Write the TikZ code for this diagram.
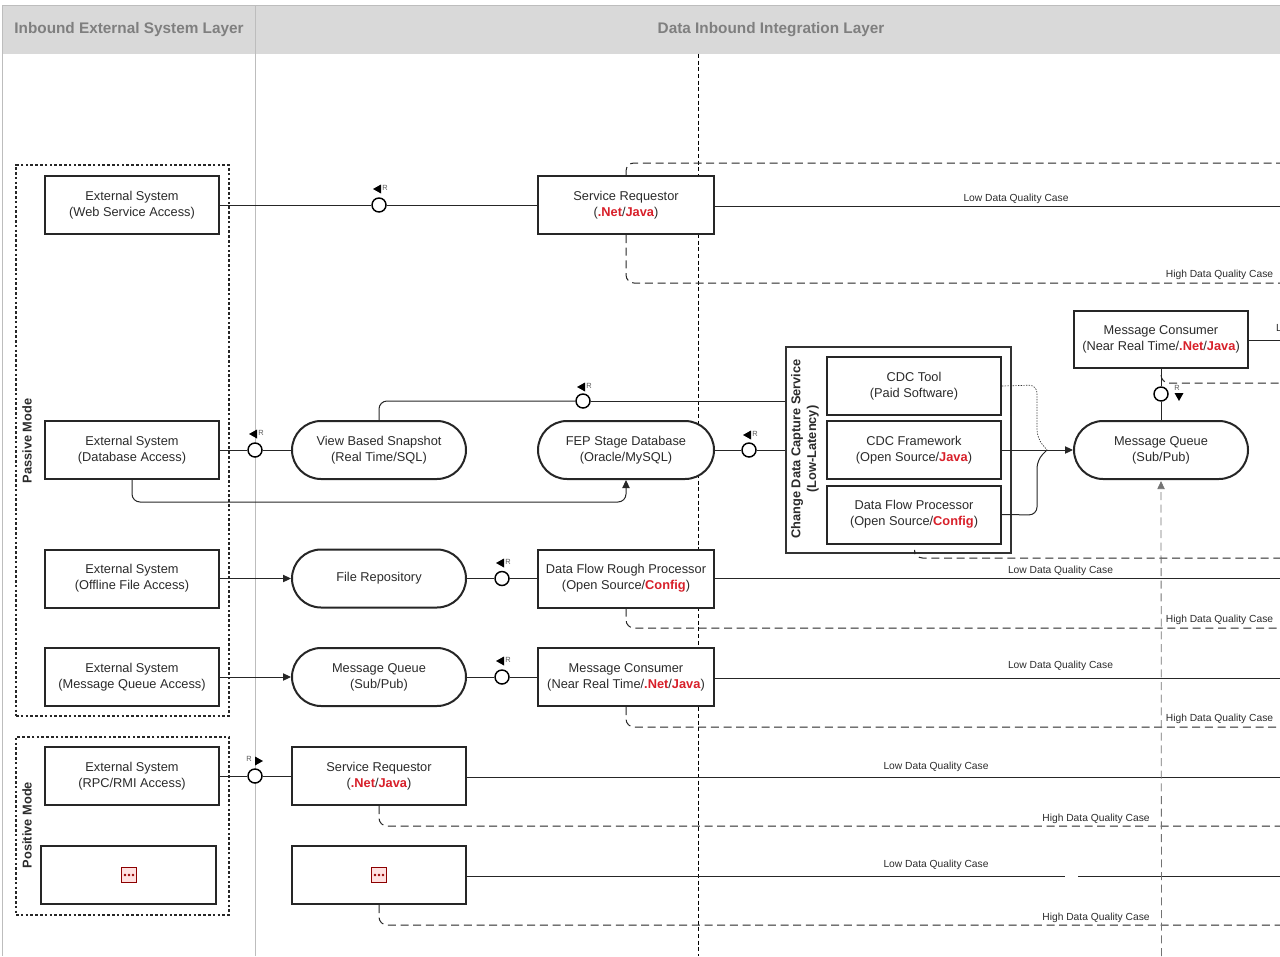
\documentclass[tikz,border=0pt]{standalone}
\usepackage{fontspec}
\setmainfont{Liberation Sans}
\usetikzlibrary{shapes.misc,arrows.meta}
\definecolor{txt}{HTML}{2B2B2B}
\definecolor{redc}{HTML}{D8202A}
\definecolor{hdr}{HTML}{D9D9D9}
\definecolor{hdrtxt}{HTML}{7F7F7F}
\definecolor{rule}{HTML}{BDBDBD}
\newcommand{\rd}[1]{\textcolor{redc}{\textbf{#1}}}
\tikzset{
  x=0.75pt,y=-0.75pt,
  wh/.style 2 args={minimum width=#1*0.75pt,minimum height=#2*0.75pt},
  boxn/.style={draw=black!85,line width=1.5pt,fill=white,rectangle,inner sep=0pt,align=center,text=txt,font=\fontsize{9.6}{11.8}\selectfont},
  pill/.style={boxn,rounded rectangle},
  cdcframe/.style={draw=black!80,line width=1.5pt,fill=white,rectangle,inner sep=0pt},
  modebox/.style={draw=black!85,line width=1.5pt,dash pattern=on 2pt off 1.6pt,rectangle,inner sep=0pt},
  hub/.style={circle,draw=black,line width=1.1pt,fill=white,minimum size=10.5pt,inner sep=0pt},
  conn/.style={draw=black!85,line width=0.75pt},
  arrowc/.style={conn,-{Triangle[length=6pt,width=5.5pt]}},
  hq/.style={draw=black!85,line width=0.75pt,dash pattern=on 6pt off 3.5pt,rounded corners=6pt},
  lab/.style={font=\fontsize{7.7}{9}\selectfont,text=txt,inner sep=0pt},
  rlab/.style={font=\fontsize{5.6}{6}\selectfont,text=black!65,inner sep=0pt},
  vlab/.style={rotate=90,font=\fontsize{9.6}{11.8}\selectfont\bfseries,text=txt,inner sep=0pt,align=center},
  mlab/.style={rotate=90,font=\fontsize{9.6}{12}\selectfont\bfseries,text=txt,inner sep=0pt},
  head/.style={font=\fontsize{11.5}{13}\selectfont\bfseries,text=hdrtxt,inner sep=0pt},
  icon/.style={draw=red!55!black,fill=red!12,line width=0.5pt,minimum size=11pt,inner sep=0pt,rectangle},
}
\newcommand{\dotsicon}[2]{%
  \fill[red!60!black] (#1-4,#2) circle[radius=1.1pt];
  \fill[red!60!black] (#1,#2) circle[radius=1.1pt];
  \fill[red!60!black] (#1+4,#2) circle[radius=1.1pt];}
\newcommand{\tl}[2]{\fill[black] (#1+4,#2-4.5) -- (#1-4,#2) -- (#1+4,#2+4.5) -- cycle;}
\newcommand{\tr}[2]{\fill[black] (#1-4,#2-4.5) -- (#1+4,#2) -- (#1-4,#2+4.5) -- cycle;}
\newcommand{\td}[2]{\fill[black] (#1-4.5,#2-4) -- (#1,#2+4) -- (#1+4.5,#2-4) -- cycle;}
\begin{document}
\begin{tikzpicture}
\useasboundingbox (0,0) rectangle (1280,956);
% header band and lanes
\fill[hdr] (2,6) rectangle (1280,54);
\draw[rule,line width=0.75pt] (2,6) -- (1280,6);
\draw[rule,line width=0.75pt] (2,6) -- (2,956);
\draw[rule,line width=0.75pt] (255,6) -- (255,956);
\draw[black,line width=0.75pt,dash pattern=on 3pt off 2pt] (698.5,54) -- (698.5,956);
\node[head] (h1) at (129,29.5) {Inbound External System Layer};
\node[head] (h2) at (771,29.5) {Data Inbound Integration Layer};
% right-edge coordinates
\coordinate (e1) at (1280,163); \coordinate (e2) at (1280,206); \coordinate (e3) at (1280,283);
\coordinate (e4) at (1280,340); \coordinate (e5) at (1280,383); \coordinate (e6) at (1280,558);
\coordinate (e7) at (1280,578); \coordinate (e8) at (1280,628); \coordinate (e9) at (1280,678);
\coordinate (e10) at (1280,727); \coordinate (e11) at (1280,777); \coordinate (e12) at (1280,826);
\coordinate (e13) at (1280,876); \coordinate (e14) at (1280,925); \coordinate (bot) at (1161.5,956);
% mode boxes
\node[modebox,wh={213}{551}] (passive) at (122.5,440.5) {};
\node[modebox,wh={213}{178}] (positive) at (122.5,826) {};
\node[mlab] (pl) at (27,441) {Passive Mode};
\node[mlab] (ql) at (27,825) {Positive Mode};
% nodes
\node[boxn,wh={174}{58}] (ew) at (132,205) {External System\\(Web Service Access)};
\node[boxn,wh={174}{58}] (ed) at (132,450) {External System\\(Database Access)};
\node[boxn,wh={174}{58}] (ef) at (132,578.5) {External System\\(Offline File Access)};
\node[boxn,wh={174}{58}] (em) at (132,677) {External System\\(Message Queue Access)};
\node[boxn,wh={174}{58}] (er) at (132,776) {External System\\(RPC/RMI Access)};
\node[boxn,wh={175}{58}] (eb) at (128.5,875) {};
\node[boxn,wh={176}{58}] (sr1) at (626,205) {Service Requestor\\(\rd{.Net}/\rd{Java})};
\node[pill,wh={174}{58}] (vb) at (379,450) {View Based Snapshot\\(Real Time/SQL)};
\node[pill,wh={176}{58}] (fep) at (626,450) {FEP Stage Database\\(Oracle/MySQL)};
\node[pill,wh={174}{58}] (fr) at (379,578.5) {File Repository};
\node[boxn,wh={176}{58}] (dfr) at (626,578.5) {Data Flow Rough Processor\\(Open Source/\rd{Config})};
\node[pill,wh={174}{58}] (mq1) at (379,677) {Message Queue\\(Sub/Pub)};
\node[boxn,wh={176}{58}] (mc1) at (626,677) {Message Consumer\\(Near Real Time/\rd{.Net}/\rd{Java})};
\node[boxn,wh={174}{58}] (sr2) at (379,776) {Service Requestor\\(\rd{.Net}/\rd{Java})};
\node[boxn,wh={174}{58}] (bb) at (379,875) {};
\node[cdcframe,wh={225}{206}] (cdc) at (898.5,450) {};
\node[vlab] (cl) at (805,449) {Change Data Capture Service\\(Low-Latency)};
\node[boxn,wh={174}{58}] (ct) at (914,386) {CDC Tool\\(Paid Software)};
\node[boxn,wh={174}{58}] (cf) at (914,450) {CDC Framework\\(Open Source/\rd{Java})};
\node[boxn,wh={174}{58}] (dp) at (914,514.5) {Data Flow Processor\\(Open Source/\rd{Config})};
\node[pill,wh={174}{58}] (mq2) at (1161,450) {Message Queue\\(Sub/Pub)};
\node[boxn,wh={174}{57}] (mc2) at (1161,339.5) {Message Consumer\\(Near Real Time/\rd{.Net}/\rd{Java})};
% hubs
\node[hub] (c1) at (379,205) {};
\node[hub] (c2) at (255,450) {};
\node[hub] (c3) at (583,401) {};
\node[hub] (c4) at (749,450) {};
\node[hub] (c5) at (502,578.5) {};
\node[hub] (c6) at (502,677) {};
\node[hub] (c7) at (255,776) {};
\node[hub] (c8) at (1161,394) {};
% connectors
\draw[conn] (ew.east) -- (c1) -- (sr1.west);
\draw[conn] (ed.east) -- (c2) -- (vb.west);
\draw[conn,rounded corners=6pt] (vb.north) |- (c3) ;
\draw[conn] (c3) -- (cdc.west |- c3);
\draw[conn] (fep.east) -- (c4) -- (cdc.west);
\draw[arrowc,rounded corners=6pt] (ed.south) |- (626,502) -- (fep.south);
\draw[arrowc] (ef.east) -- (fr.west);
\draw[conn] (fr.east) -- (c5) -- (dfr.west);
\draw[arrowc] (em.east) -- (mq1.west);
\draw[conn] (mq1.east) -- (c6) -- (mc1.west);
\draw[conn] (er.east) -- (c7) -- (sr2.west);
\draw[arrowc] (cf.east) -- (mq2.west);
\draw[conn] (mc2.south) -- (c8) -- (mq2.north);
\draw[conn] (mc2.east |- e4) -- (e4);
\draw[conn] (sr1.east |- e2) -- (e2);
\draw[conn] (dfr.east |- e7) -- (e7);
\draw[conn] (mc1.east |- e9) -- (e9);
\draw[conn] (sr2.east |- e11) -- (e11);
\draw[conn] (bb.east |- e13) -- (e13);
\draw[white,line width=1.5pt] (1065,876) -- (1078,876);
\draw[hq] (sr1.north) |- (e1);
\draw[hq] (sr1.south) |- (e3);
\draw[hq] (dfr.south) |- (e8);
\draw[hq] (mc1.south) |- (e10);
\draw[hq] (sr2.south) |- (e12);
\draw[hq] (bb.south) |- (e14);
\draw[hq] (mc2.south) ++(0,6) |- (e5);
\draw[hq] (cdc.south) ++(16,0) |- (e6);
\draw[draw=black!55,line width=0.6pt,dash pattern=on 6pt off 3.5pt,-{Triangle[length=6pt,width=5.5pt]},shorten >=0.8pt] (bot) -- (mq2.south);
\draw[black!80,line width=0.5pt,dash pattern=on 1pt off 1pt,rounded corners=6pt] (ct.east) -- (1037,385) -- (1037,438) -- (1047,450);
\draw[conn,rounded corners=6pt] (dp.east) -- (1037,515) -- (1037,460) -- (1047,450);
% R markers
\tl{377}{189} \node[rlab] (r1) at (385,188) {R};
\tl{253}{434} \node[rlab] (r2) at (261,433) {R};
\tl{581}{387} \node[rlab] (r3) at (589,386) {R};
\tl{747}{435} \node[rlab] (r4) at (755,434) {R};
\tl{500}{563} \node[rlab] (r5) at (508,562) {R};
\tl{500}{661} \node[rlab] (r6) at (508,660) {R};
\tr{259}{761} \node[rlab] (r7) at (249,759) {R};
\td{1179}{397} \node[rlab] (r8) at (1177,388) {R};
% flow labels
\node[lab] (l1) at (1016,199) {Low Data Quality Case};
\node[lab] (l2) at (1219.5,275) {High Data Quality Case};
\node[lab] (l3) at (1060.5,571) {Low Data Quality Case};
\node[lab] (l4) at (1219.5,620) {High Data Quality Case};
\node[lab] (l5) at (1060.5,666) {Low Data Quality Case};
\node[lab] (l6) at (1219.5,719) {High Data Quality Case};
\node[lab] (l7) at (936,767) {Low Data Quality Case};
\node[lab] (l8) at (1096,819) {High Data Quality Case};
\node[lab] (l9) at (936,865) {Low Data Quality Case};
\node[lab] (l10) at (1096,918) {High Data Quality Case};
\node[lab] (l11) at (1279,328) {L};
% placeholder icons
\node[icon] (i1) at (129,875) {}; \dotsicon{129}{875}
\node[icon] (i2) at (379,875) {}; \dotsicon{379}{875}
\end{tikzpicture}
\end{document}
